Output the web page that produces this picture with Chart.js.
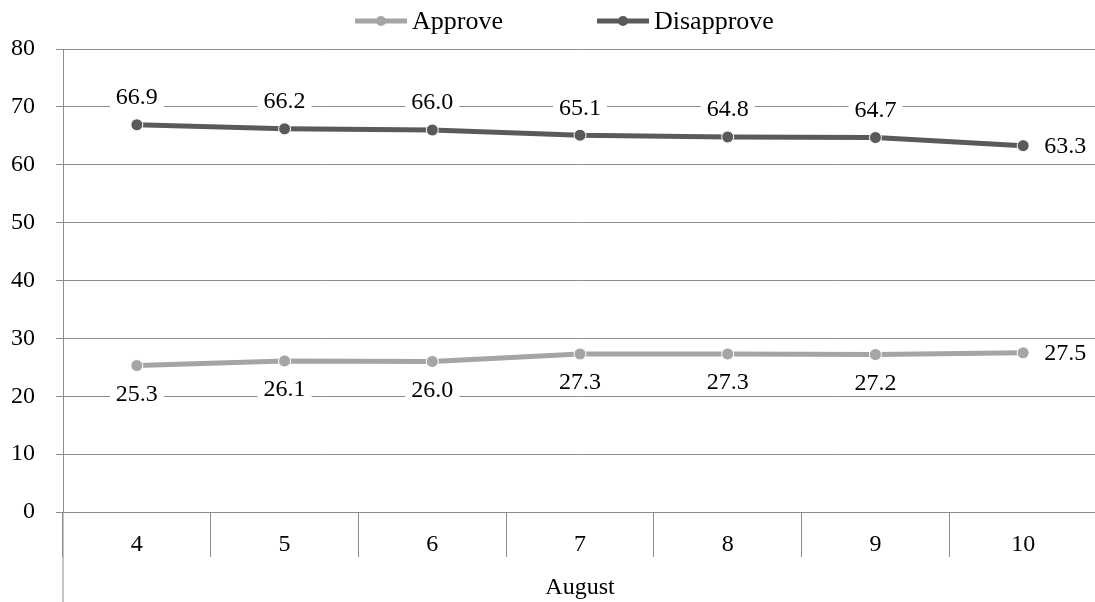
<!DOCTYPE html>
<html>
<head>
<meta charset="utf-8">
<script src="https://cdn.jsdelivr.net/npm/chart.js@4"></script>
<style>
  html, body { margin: 0; padding: 0; background: #fff; overflow: hidden; }
  #wrap { width: 1104px; height: 602px; }
</style>
</head>
<body>
<div id="wrap"><canvas id="lineChart" width="1104" height="602"></canvas></div>
<script>
const days = ['4', '5', '6', '7', '8', '9', '10'];
const monthLabel = 'August';
const approve = [25.3, 26.1, 26.0, 27.3, 27.3, 27.2, 27.5];
const disapprove = [66.9, 66.2, 66.0, 65.1, 64.8, 64.7, 63.3];
const yTicks = [0, 10, 20, 30, 40, 50, 60, 70, 80];

const FONT = '"Liberation Serif", "Times New Roman", serif';
const gridGrey = '#8c8c8c';

// legend drawn by hand: line + dot, then name
const legendPlugin = {
    id: 'lineDotLegend',
    afterDraw(chart) {
        const ctx = chart.ctx;
        const items = [
            { text: 'Approve', color: '#a5a5a5', x: 355 },
            { text: 'Disapprove', color: '#5a5a5a', x: 597 }
        ];
        const y = 21;
        ctx.save();
        items.forEach(it => {
            ctx.strokeStyle = it.color;
            ctx.lineWidth = 5;
            ctx.beginPath();
            ctx.moveTo(it.x, y);
            ctx.lineTo(it.x + 52, y);
            ctx.stroke();
            ctx.fillStyle = it.color;
            ctx.beginPath();
            ctx.arc(it.x + 26, y, 5, 0, Math.PI * 2);
            ctx.fill();
            ctx.fillStyle = '#000';
            ctx.font = '26px ' + FONT;
            ctx.textAlign = 'left';
            ctx.textBaseline = 'middle';
            ctx.fillText(it.text, it.x + 57, y + 1);
        });
        ctx.restore();
    }
};

// y axis line runs on down past the category labels
const axisExtend = {
    id: 'axisExtend',
    afterDraw(chart) {
        const ctx = chart.ctx;
        const a = chart.chartArea;
        ctx.save();
        ctx.strokeStyle = gridGrey;
        ctx.lineWidth = 1;
        ctx.beginPath();
        ctx.moveTo(a.left, a.bottom);
        ctx.lineTo(a.left, chart.height);
        ctx.stroke();
        ctx.restore();
    }
};

// value labels with white boxes behind them
const valueLabels = {
    id: 'valueLabels',
    afterDatasetsDraw(chart) {
        const ctx = chart.ctx;
        ctx.save();
        ctx.font = '24px ' + FONT;
        ctx.textBaseline = 'middle';
        chart.data.datasets.forEach((ds, i) => {
            const meta = chart.getDatasetMeta(i);
            meta.data.forEach((pt, j) => {
                const txt = ds.data[j].toFixed(1);
                const w = ctx.measureText(txt).width;
                let x = pt.x, y = pt.y;
                if (j === ds.data.length - 1) {
                    x = pt.x + 21 + w / 2;
                } else {
                    y = pt.y + (ds.labelSide === 'above' ? -28 : 28);
                }
                ctx.fillStyle = '#fff';
                ctx.fillRect(x - w / 2 - 6, y - 12, w + 12, 24);
                ctx.fillStyle = '#000';
                ctx.textAlign = 'center';
                ctx.fillText(txt, x, y + 1);
            });
        });
        ctx.restore();
    }
};

const ctx = document.getElementById('lineChart').getContext('2d');
const lineChart = new Chart(ctx, {
    type: 'line',
    data: {
        labels: days,
        datasets: [{
            label: 'Approve',
            data: approve,
            borderColor: '#a5a5a5',
            backgroundColor: '#a5a5a5',
            pointBackgroundColor: '#a5a5a5',
            pointBorderColor: '#ffffff',
            pointBorderWidth: 1,
            pointRadius: 6,
            borderWidth: 5,
            tension: 0,
            labelSide: 'below'
        }, {
            label: 'Disapprove',
            data: disapprove,
            borderColor: '#5a5a5a',
            backgroundColor: '#5a5a5a',
            pointBackgroundColor: '#5a5a5a',
            pointBorderColor: '#ffffff',
            pointBorderWidth: 1,
            pointRadius: 6,
            borderWidth: 5,
            tension: 0,
            labelSide: 'above'
        }]
    },
    options: {
        responsive: false,
        animation: false,
        layout: { padding: { top: 49, right: 0, left: 0, bottom: 0 } },
        plugins: {
            legend: { display: false },
            tooltip: { enabled: false }
        },
        scales: {
            x: {
                offset: true,
                afterFit: scale => { scale.height = 90; },
                grid: {
                    offset: true,
                    drawOnChartArea: false,
                    tickLength: 45,
                    color: gridGrey
                },
                border: { color: gridGrey },
                ticks: {
                    color: '#000',
                    font: { family: FONT, size: 24 },
                    padding: -27,
                    maxRotation: 0
                },
                title: {
                    display: true,
                    text: monthLabel,
                    color: '#000',
                    font: { family: FONT, size: 24 },
                    padding: { top: 0, bottom: 0 }
                }
            },
            y: {
                min: yTicks[0],
                max: yTicks[yTicks.length - 1],
                afterFit: scale => { scale.width = 63; },
                afterBuildTicks: scale => { scale.ticks = yTicks.map(v => ({ value: v })); },
                grid: { color: gridGrey, tickLength: 7 },
                border: { color: gridGrey },
                ticks: {
                    color: '#000',
                    font: { family: FONT, size: 24 },
                    padding: 21
                }
            }
        }
    },
    plugins: [valueLabels, axisExtend, legendPlugin]
});
</script>
</body>
</html>
